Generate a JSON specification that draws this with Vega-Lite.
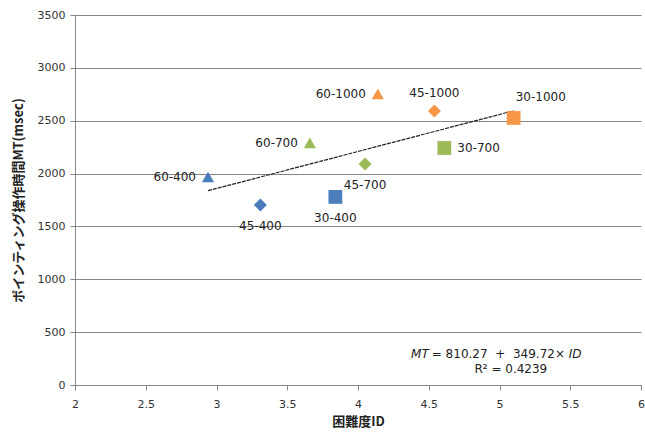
{
  "$schema": "https://vega.github.io/schema/vega-lite/v6.json",
  "autosize": "none",
  "width": 566,
  "height": 370,
  "padding": {"left": 75, "top": 15, "right": 4, "bottom": 50},
  "background": "white",
  "config": {
    "view": {"stroke": null},
    "font": "DejaVu Sans",
    "axis": {
      "labelFont": "DejaVu Sans",
      "labelFontSize": 11,
      "labelColor": "#333333",
      "domainColor": "#868686",
      "tickColor": "#868686",
      "gridColor": "#868686",
      "titleFont": "Noto Sans CJK JP",
      "titleFontWeight": "bold",
      "titleFontSize": 13,
      "titleColor": "#222222"
    }
  },
  "datasets": {
    "pts": [
      {"label": "30-400", "group": "30", "size": "400", "ID": 3.84, "MT": 1779},
      {"label": "45-400", "group": "45", "size": "400", "ID": 3.31, "MT": 1703},
      {"label": "60-400", "group": "60", "size": "400", "ID": 2.94, "MT": 1968},
      {"label": "30-700", "group": "30", "size": "700", "ID": 4.61, "MT": 2242},
      {"label": "45-700", "group": "45", "size": "700", "ID": 4.05, "MT": 2091},
      {"label": "60-700", "group": "60", "size": "700", "ID": 3.66, "MT": 2290},
      {"label": "30-1000", "group": "30", "size": "1000", "ID": 5.10, "MT": 2526},
      {"label": "45-1000", "group": "45", "size": "1000", "ID": 4.54, "MT": 2592},
      {"label": "60-1000", "group": "60", "size": "1000", "ID": 4.14, "MT": 2753}
    ],
    "trend": [
      {"ID": 2.94, "MT": 1838},
      {"ID": 5.10, "MT": 2594}
    ],
    "anno": [
      {"a": 1}
    ]
  },
  "layer": [
    {
      "data": {"name": "trend"},
      "mark": {"type": "line", "color": "#222222", "strokeWidth": 1.2, "strokeDash": [4, 1]},
      "encoding": {
        "x": {
          "field": "ID", "type": "quantitative",
          "scale": {"domain": [2, 6], "nice": false, "zero": false},
          "axis": {
            "values": [2, 2.5, 3, 3.5, 4, 4.5, 5, 5.5, 6],
            "format": "~g",
            "grid": false, "tickSize": 5, "labelPadding": 8,
            "title": "困難度ID", "titlePadding": 6,
            "labelFlush": false
          }
        },
        "y": {
          "field": "MT", "type": "quantitative",
          "scale": {"domain": [0, 3500], "nice": false},
          "axis": {
            "values": [0, 500, 1000, 1500, 2000, 2500, 3000, 3500],
            "format": "d",
            "grid": true, "tickSize": 5, "labelPadding": 5,
            "title": "ポインティング操作時間MT(msec)", "titlePadding": 12
          }
        }
      }
    },
    {
      "data": {"name": "pts"},
      "mark": {"type": "point", "filled": true, "opacity": 1},
      "encoding": {
        "x": {"field": "ID", "type": "quantitative"},
        "y": {"field": "MT", "type": "quantitative"},
        "shape": {
          "field": "group", "type": "nominal",
          "scale": {"domain": ["30", "45", "60"], "range": ["square", "diamond", "triangle-up"]},
          "legend": null
        },
        "color": {
          "field": "size", "type": "nominal",
          "scale": {"domain": ["400", "700", "1000"], "range": ["#4A7DBA", "#9BBB59", "#F79646"]},
          "legend": null
        },
        "size": {
          "field": "group", "type": "nominal",
          "scale": {"domain": ["30", "45", "60"], "range": [190, 150, 150]},
          "legend": null
        }
      }
    },
    {
      "data": {"name": "pts"},
      "transform": [{"filter": {"field": "label", "oneOf": ["60-400", "60-700", "60-1000"]}}],
      "mark": {"type": "text", "align": "right", "baseline": "middle", "dx": -12, "font": "DejaVu Sans", "fontSize": 12, "color": "#222222"},
      "encoding": {
        "x": {"field": "ID", "type": "quantitative"},
        "y": {"field": "MT", "type": "quantitative"},
        "text": {"field": "label"}
      }
    },
    {
      "data": {"name": "pts"},
      "transform": [{"filter": {"field": "label", "oneOf": ["45-400", "30-400", "45-700"]}}],
      "mark": {"type": "text", "align": "center", "baseline": "middle", "dy": 21, "font": "DejaVu Sans", "fontSize": 12, "color": "#222222"},
      "encoding": {
        "x": {"field": "ID", "type": "quantitative"},
        "y": {"field": "MT", "type": "quantitative"},
        "text": {"field": "label"}
      }
    },
    {
      "data": {"name": "pts"},
      "transform": [{"filter": {"field": "label", "equal": "30-700"}}],
      "mark": {"type": "text", "align": "left", "baseline": "middle", "dx": 13, "font": "DejaVu Sans", "fontSize": 12, "color": "#222222"},
      "encoding": {
        "x": {"field": "ID", "type": "quantitative"},
        "y": {"field": "MT", "type": "quantitative"},
        "text": {"field": "label"}
      }
    },
    {
      "data": {"name": "pts"},
      "transform": [{"filter": {"field": "label", "equal": "45-1000"}}],
      "mark": {"type": "text", "align": "center", "baseline": "middle", "dy": -18, "font": "DejaVu Sans", "fontSize": 12, "color": "#222222"},
      "encoding": {
        "x": {"field": "ID", "type": "quantitative"},
        "y": {"field": "MT", "type": "quantitative"},
        "text": {"field": "label"}
      }
    },
    {
      "data": {"name": "pts"},
      "transform": [{"filter": {"field": "label", "equal": "30-1000"}}],
      "mark": {"type": "text", "align": "left", "baseline": "middle", "dx": 2, "dy": -21, "font": "DejaVu Sans", "fontSize": 12, "color": "#222222"},
      "encoding": {
        "x": {"field": "ID", "type": "quantitative"},
        "y": {"field": "MT", "type": "quantitative"},
        "text": {"field": "label"}
      }
    },
    {
      "data": {"name": "anno"},
      "mark": {"type": "text", "align": "right", "baseline": "middle", "font": "DejaVu Sans", "fontSize": 12, "fontStyle": "italic", "color": "#222222"},
      "encoding": {
        "x": {"datum": 4.5},
        "y": {"datum": 295},
        "text": {"value": "MT"}
      }
    },
    {
      "data": {"name": "anno"},
      "mark": {"type": "text", "align": "left", "baseline": "middle", "dx": 3, "font": "DejaVu Sans", "fontSize": 12, "color": "#222222"},
      "encoding": {
        "x": {"datum": 4.5},
        "y": {"datum": 295},
        "text": {"value": "= 810.27\u00a0\u00a0+\u00a0\u00a0349.72×"}
      }
    },
    {
      "data": {"name": "anno"},
      "mark": {"type": "text", "align": "right", "baseline": "middle", "font": "DejaVu Sans", "fontSize": 12, "fontStyle": "italic", "color": "#222222"},
      "encoding": {
        "x": {"datum": 5.58},
        "y": {"datum": 295},
        "text": {"value": "ID"}
      }
    },
    {
      "data": {"name": "anno"},
      "mark": {"type": "text", "align": "center", "baseline": "middle", "font": "DejaVu Sans", "fontSize": 12, "color": "#222222"},
      "encoding": {
        "x": {"datum": 5.08},
        "y": {"datum": 150},
        "text": {"value": "R² = 0.4239"}
      }
    }
  ]
}
